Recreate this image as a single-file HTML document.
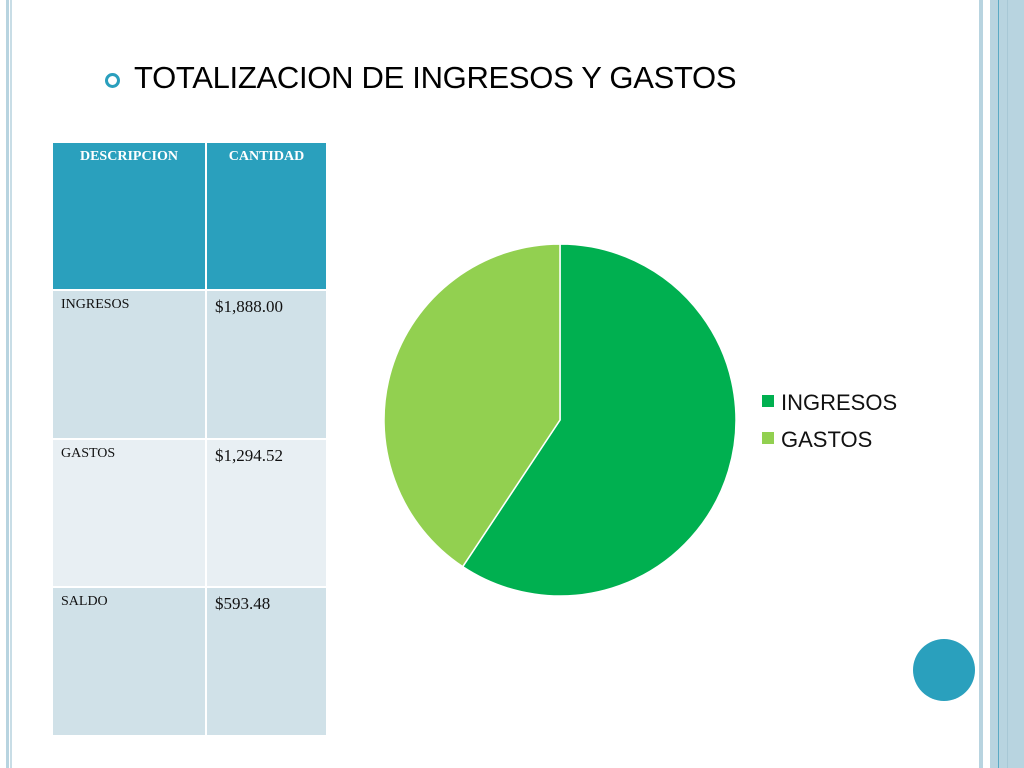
<!DOCTYPE html>
<html><head><meta charset="utf-8"><style>
body{margin:0;width:1024px;height:768px;background:#fff;position:relative;overflow:hidden;font-family:"Liberation Sans",sans-serif}
.abs{position:absolute}
.cell{position:absolute;font-family:"Liberation Serif",serif;color:#111;box-sizing:border-box;padding:6px 8px}
</style></head><body>
<div class="abs" style="left:6px;top:0;width:3px;height:768px;background:#b8d4e0"></div>
<div class="abs" style="left:10px;top:0;width:2px;height:768px;background:#c8dde6"></div>
<div class="abs" style="left:979px;top:0;width:4px;height:768px;background:#b8d4e0"></div>
<div class="abs" style="left:990px;top:0;width:34px;height:768px;background:#b8d4e0"></div>
<div class="abs" style="left:998px;top:0;width:1px;height:768px;background:#5aa9c4"></div>
<div class="abs" style="left:1007px;top:0;width:1px;height:768px;background:#a8c8d6"></div>

<div class="abs" style="left:105px;top:73px;width:9px;height:9px;border:3px solid #2a9fbd;border-radius:50%"></div>
<div class="abs" style="left:134px;top:60px;font-size:31px;color:#000;white-space:nowrap;letter-spacing:-0.3px">TOTALIZACION DE INGRESOS Y GASTOS</div>

<div>
<div class="cell" style="left:53px;top:143px;width:152px;height:146px;background:#2aa0bd;color:#fff;font-weight:bold;font-size:14px;text-align:center">DESCRIPCION</div>
<div class="cell" style="left:207px;top:143px;width:119px;height:146px;background:#2aa0bd;color:#fff;font-weight:bold;font-size:14px;text-align:center">CANTIDAD</div>
<div class="cell" style="left:53px;top:291px;width:152px;height:147px;background:#d0e1e8;font-size:14px">INGRESOS</div>
<div class="cell" style="left:207px;top:291px;width:119px;height:147px;background:#d0e1e8;font-size:17px">$1,888.00</div>
<div class="cell" style="left:53px;top:440px;width:152px;height:146px;background:#e8eff3;font-size:14px">GASTOS</div>
<div class="cell" style="left:207px;top:440px;width:119px;height:146px;background:#e8eff3;font-size:17px">$1,294.52</div>
<div class="cell" style="left:53px;top:588px;width:152px;height:147px;background:#d0e1e8;font-size:14px">SALDO</div>
<div class="cell" style="left:207px;top:588px;width:119px;height:147px;background:#d0e1e8;font-size:17px">$593.48</div>
</div>

<svg class="abs" style="left:0;top:0" width="1024" height="768" id="chart"></svg>

<div class="abs" style="left:913px;top:639px;width:62px;height:62px;border-radius:50%;background:#2aa0bd"></div>

<script>
const categories = ["INGRESOS", "GASTOS"];
const values = [1888.00, 1294.52];
const colors = ["#00b050", "#92d050"];
const svg = document.getElementById('chart');
const NS = "http://www.w3.org/2000/svg";
const cx = 560, cy = 420, r = 176;
const total = values.reduce((a, b) => a + b, 0);
let ang = -Math.PI / 2;
values.forEach((v, i) => {
  const a2 = ang + v / total * 2 * Math.PI;
  const x1 = cx + r * Math.cos(ang), y1 = cy + r * Math.sin(ang);
  const x2 = cx + r * Math.cos(a2), y2 = cy + r * Math.sin(a2);
  const large = (a2 - ang) > Math.PI ? 1 : 0;
  const p = document.createElementNS(NS, 'path');
  p.setAttribute('d', `M${cx},${cy} L${x1},${y1} A${r},${r} 0 ${large} 1 ${x2},${y2} Z`);
  p.setAttribute('fill', colors[i]);
  p.setAttribute('stroke', '#fff');
  p.setAttribute('stroke-width', '1.5');
  
  
  svg.appendChild(p);
  ang = a2;
});
categories.forEach((c, i) => {
  const y = 402 + i * 37;
  const s = document.createElementNS(NS, 'rect');
  s.setAttribute('x', 762); s.setAttribute('y', y - 7);
  s.setAttribute('width', 12); s.setAttribute('height', 12);
  s.setAttribute('fill', colors[i]);
  
  
  svg.appendChild(s);
  const t = document.createElementNS(NS, 'text');
  t.setAttribute('x', 781); t.setAttribute('y', y + 8);
  t.setAttribute('font-size', '22');
  t.setAttribute('font-family', 'Liberation Sans, sans-serif');
  t.setAttribute('fill', '#111');
  t.textContent = c;
  
  
  svg.appendChild(t);
});
</script>
</body></html>
